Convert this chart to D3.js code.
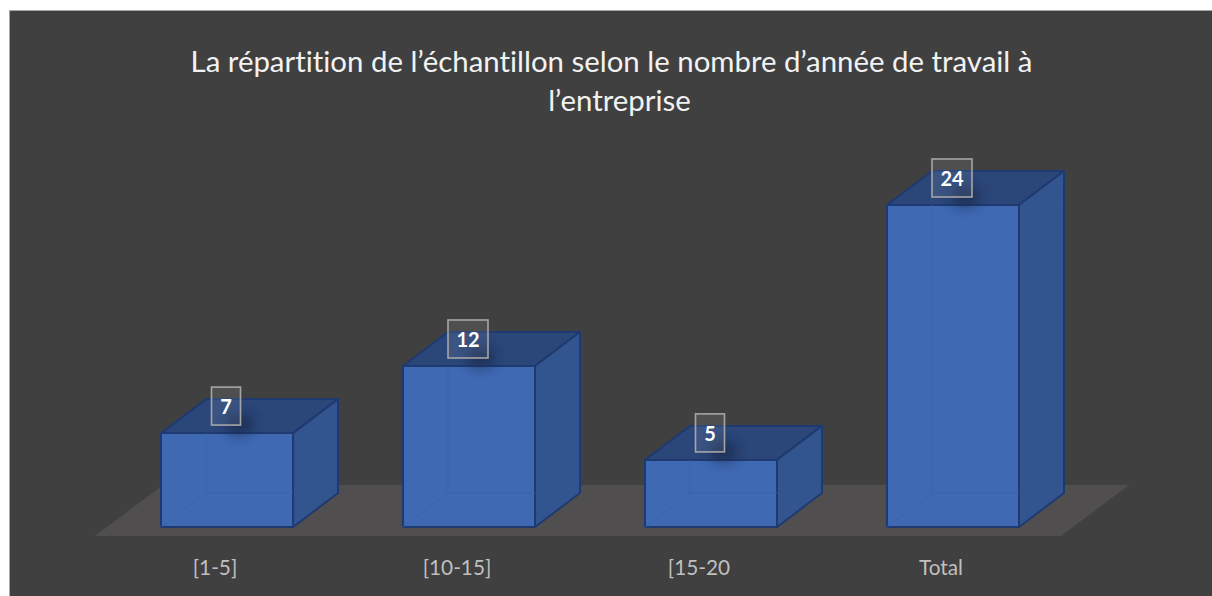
<!DOCTYPE html>
<html>
<head>
<meta charset="utf-8">
<title>Répartition</title>
<script src="https://d3js.org/d3.v7.min.js"></script>
<style>
  html, body { margin: 0; padding: 0; background: #fff; overflow: hidden; }
  svg { display: block; }
  text { font-family: Lato, "Open Sans", sans-serif; font-variant-ligatures: none; }
</style>
</head>
<body>
<div id="chart"></div>
<script>
var categories = ["[1-5]", "[10-15]", "[15-20", "Total"]
var values = [7, 12, 5, 24]
var titleLines = ["La répartition de l’échantillon selon le nombre d’année de travail à", "l’entreprise"]

var width = 1212, height = 596
var base = 527, depthX = 45, depthY = -34

var svg = d3.select("#chart").append("svg")
    .attr("width", width)
    .attr("height", height)

var defs = svg.append("defs")
defs.append("filter").attr("id", "blur")
    .attr("x", "-80%").attr("y", "-80%").attr("width", "260%").attr("height", "260%")
    .append("feGaussianBlur").attr("stdDeviation", 6)

var x = d3.scaleBand()
    .domain(categories)
    .range([106, 1074])
    .paddingInner(0.4545)
    .paddingOuter(0.2273)

var y = d3.scaleLinear()
    .domain([0, 24])
    .range([base, 205])

// panel
svg.append("rect")
    .attr("x", 9.5).attr("y", 10.5)
    .attr("width", width).attr("height", height)
    .attr("fill", "#404040")
    .attr("stroke", "#a6a6a6")

// floor
var fl = x.range()[0] - 11, fr = x.range()[1] - 13
svg.append("path")
    .attr("d", d3.line()([[fl, base + 9], [fl + 68, base - 42], [fr + 68, base - 42], [fr, base + 9]]) + "Z")
    .attr("fill", "#504e4e")

// title, second line sits a bit right of centre in the original
svg.append("g").selectAll("text")
    .data(titleLines)
    .enter().append("text")
    .attr("x", function(d, i) { return i ? 619.5 : 611.5 })
    .attr("y", function(d, i) { return 72 + i * 39 })
    .attr("text-anchor", "middle")
    .attr("font-size", 29.4)
    .attr("fill", "#f2f2f2")
    .text(function(d) { return d })

// bars, faces drawn back to front, they are translucent
var stroke = "#1f3a70"
var bars = svg.append("g").selectAll("g")
    .data(categories)
    .enter().append("g")

function face(sel, fill, points, sw, strokeCol) {
    sel.append("path")
        .attr("d", function(d, i) { return d3.line()(points(x(d), x(d) + x.bandwidth(), y(values[i]))) + "Z" })
        .attr("fill", fill)
        .attr("stroke", strokeCol)
        .attr("stroke-width", sw)
        .attr("stroke-linejoin", "round")
}

// back and floor of the box
face(bars, "#3b64ad", function(a, b, t) {
    return [[a + depthX, t + depthY], [b + depthX, t + depthY], [b + depthX, base + depthY], [a + depthX, base + depthY]]
}, 1, "#3a60a6")
face(bars, "#3d66b0", function(a, b, t) {
    return [[a, base], [b, base], [b + depthX, base + depthY], [a + depthX, base + depthY]]
}, 1, "#3a60a6")
// top
face(bars, "#2b4678", function(a, b, t) {
    return [[a, t], [b, t], [b + depthX, t + depthY], [a + depthX, t + depthY]]
}, 2, stroke)
// right side
face(bars, "#33558f", function(a, b, t) {
    return [[b, t], [b + depthX, t + depthY], [b + depthX, base + depthY], [b, base]]
}, 2, stroke)
// front
face(bars, "#3f69b2", function(a, b, t) {
    return [[a, t], [b, t], [b, base], [a, base]]
}, 2, stroke)
// edges of the box seen through the front
bars.append("path")
    .attr("d", function(d, i) {
        var a = x(d), t = y(values[i])
        return "M" + (a + depthX) + "," + t + "V" + (base + depthY) + "H" + (a + x.bandwidth()) +
            "M" + a + "," + base + "L" + (a + depthX) + "," + (base + depthY)
    })
    .attr("fill", "none")
    .attr("stroke", "#3b64ac")
// soft shadow of the label
bars.append("ellipse")
    .attr("cx", function(d) { return x(d) + x.bandwidth() / 2 + 12 })
    .attr("cy", function(d, i) { return y(values[i]) - 9 })
    .attr("rx", 14)
    .attr("ry", 11)
    .attr("fill", "#14264a")
    .attr("opacity", 0.65)
    .attr("filter", "url(#blur)")

// value labels
var labelW = function(v) { return String(v).length > 1 ? 40 : 29 }
bars.append("rect")
    .attr("x", function(d, i) { return x(d) + x.bandwidth() / 2 - labelW(values[i]) / 2 - 1 })
    .attr("y", function(d, i) { return y(values[i]) - 46 })
    .attr("width", function(d, i) { return labelW(values[i]) })
    .attr("height", 38)
    .attr("fill", "#ffffff")
    .attr("fill-opacity", 0.08)
    .attr("stroke", "#a6a6a6")
    .attr("stroke-width", 1.6)
bars.append("text")
    .attr("x", function(d) { return x(d) + x.bandwidth() / 2 - 1 })
    .attr("y", function(d, i) { return y(values[i]) - 19 })
    .attr("text-anchor", "middle")
    .attr("font-size", 20)
    .attr("font-weight", 700)
    .attr("fill", "#ffffff")
    .text(function(d, i) { return values[i] })

// category labels
svg.append("g").selectAll("text")
    .data(categories)
    .enter().append("text")
    .attr("x", function(d) { return x(d) + x.bandwidth() / 2 - 12 })
    .attr("y", 575)
    .attr("text-anchor", "middle")
    .attr("font-size", 20.8)
    .attr("fill", "#bfbfbf")
    .text(function(d) { return d })
</script>
</body>
</html>
